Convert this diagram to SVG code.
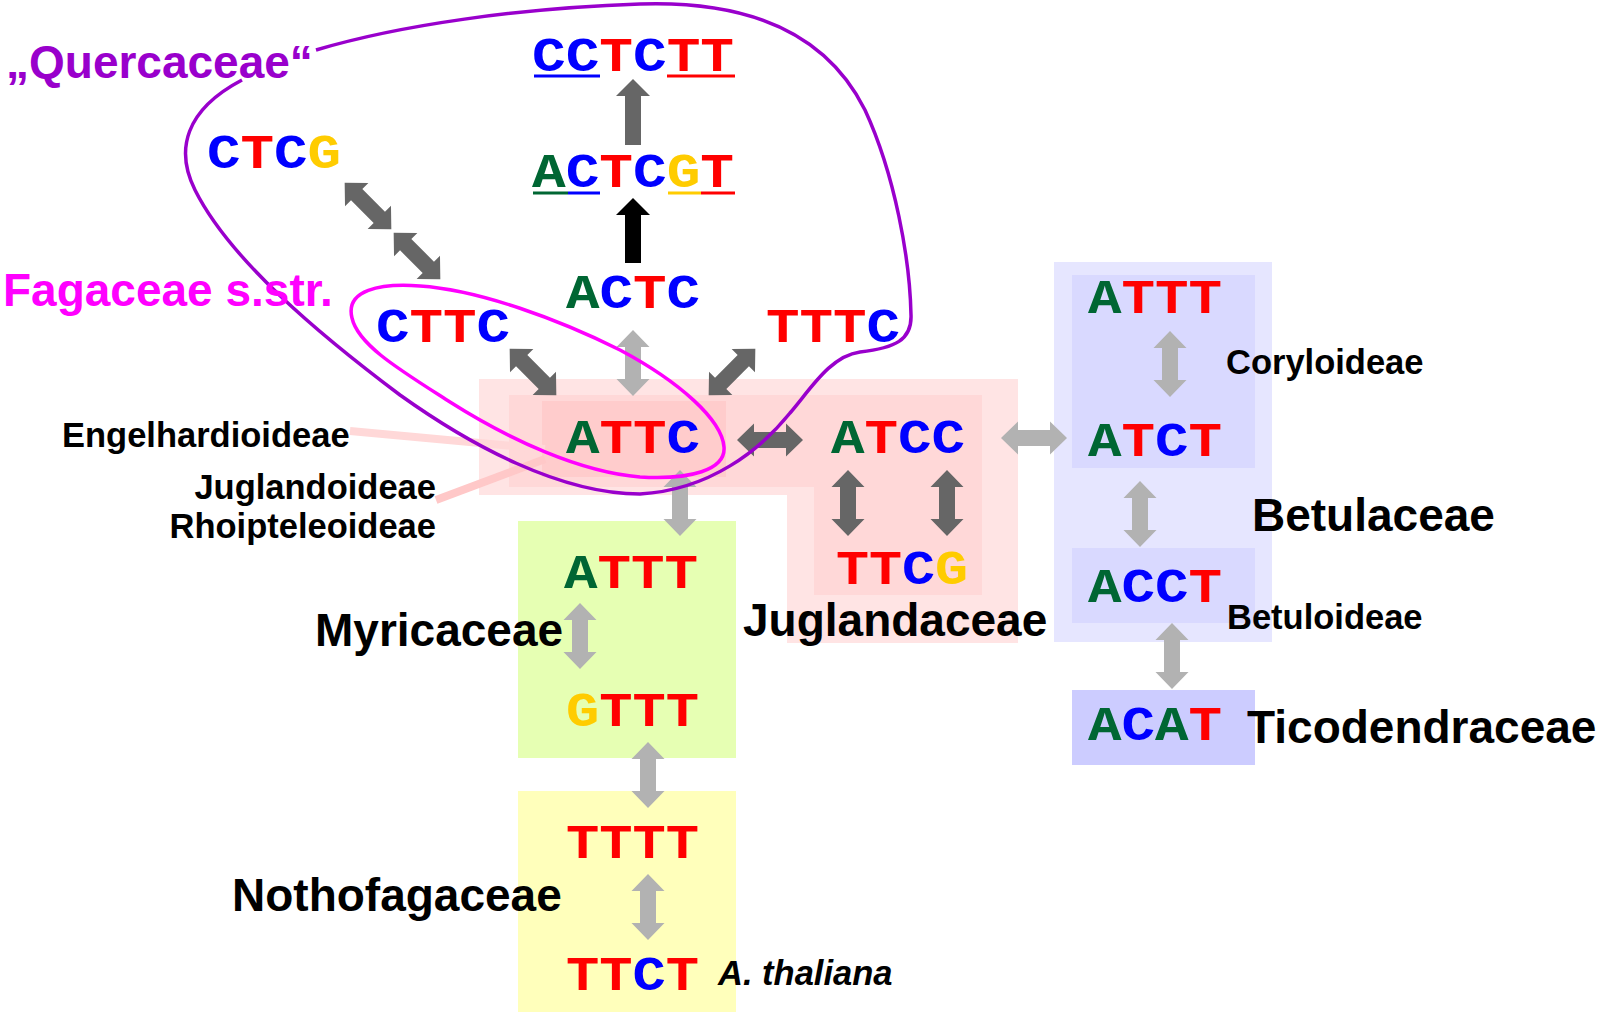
<svg xmlns="http://www.w3.org/2000/svg" xmlns:xlink="http://www.w3.org/1999/xlink" width="1600" height="1012" viewBox="0 0 1600 1012">
<style>
.seq{font-family:"Liberation Mono","Courier New",monospace;font-weight:bold;font-size:48px}
.A{fill:#006633}.C{fill:#0000FF}.T{fill:#FF0000}.G{fill:#FFCC00}
.big{font-family:"Liberation Sans",Arial,sans-serif;font-weight:bold;font-size:46px;fill:#000}
.small{font-family:"Liberation Sans",Arial,sans-serif;font-weight:bold;font-size:34.5px;fill:#000}
.dk{fill:#666666}.lt{fill:#B2B2B2}.bk{fill:#000}
</style>
<defs>
<path id="da" d="M0,-33 L16.5,-16 L8,-16 L8,16 L16.5,16 L0,33 L-16.5,16 L-8,16 L-8,-16 L-16.5,-16 Z"/>
</defs>
<rect width="1600" height="1012" fill="#fff"/>

<!-- background boxes -->
<g id="juglandaceae-box">
<path d="M479,379 H1018 V643 H787 V495 H479 Z" fill="#FFE4E4"/>
<path d="M509,395 H982 V595 H814 V487 H509 Z" fill="#FFD8D8"/>
<rect x="542" y="401" width="184" height="76" fill="#FFCCCC"/>
</g>
<g id="betulaceae-box">
<rect x="1054" y="262" width="218" height="380" fill="#E6E6FF"/>
<rect x="1072" y="275" width="183" height="193" fill="#D9D9FF"/>
<rect x="1072" y="548" width="183" height="75" fill="#D9D9FF"/>
</g>
<g id="ticodendraceae-box"><rect x="1072" y="690" width="183" height="75" fill="#CCCCFF"/></g>
<g id="myricaceae-box"><rect x="518" y="521" width="218" height="237" fill="#E6FFB3"/></g>
<g id="nothofagaceae-box"><rect x="518" y="791" width="218" height="221" fill="#FFFFBB"/></g>

<!-- pointer lines -->
<g id="pointers" stroke-linecap="butt">
<line x1="350" y1="431" x2="545" y2="449" stroke="#FFD8D8" stroke-width="8"/>
<line x1="436" y1="500" x2="545" y2="459" stroke="#FFC8C8" stroke-width="8"/>
</g>

<!-- connectors -->
<g id="connectors">
<use xlink:href="#da" class="dk" transform="translate(368,206) rotate(-45)"/>
<use xlink:href="#da" class="dk" transform="translate(417,256) rotate(-45)"/>
<use xlink:href="#da" class="dk" transform="translate(533,372) rotate(-45)"/>
<use xlink:href="#da" class="dk" transform="translate(732,372) rotate(45)"/>
<use xlink:href="#da" class="lt" transform="translate(633,363)"/>
<use xlink:href="#da" class="dk" transform="translate(770,440) rotate(90)"/>
<use xlink:href="#da" class="lt" transform="translate(1034,438) rotate(90)"/>
<use xlink:href="#da" class="dk" transform="translate(848,503)"/>
<use xlink:href="#da" class="dk" transform="translate(947,503)"/>
<use xlink:href="#da" class="lt" transform="translate(680,503)"/>
<use xlink:href="#da" class="lt" transform="translate(580,636)"/>
<use xlink:href="#da" class="lt" transform="translate(648,775)"/>
<use xlink:href="#da" class="lt" transform="translate(648,907)"/>
<use xlink:href="#da" class="lt" transform="translate(1170,364)"/>
<use xlink:href="#da" class="lt" transform="translate(1140,514)"/>
<use xlink:href="#da" class="lt" transform="translate(1172,656)"/>
<polygon class="dk" points="633,79 650,96 641,96 641,145 625,145 625,96 616,96"/>
<polygon class="bk" points="633,198 650,215 641,215 641,263 625,263 625,215 616,215"/>
</g>

<!-- group outlines -->
<g id="quercaceae-outline">
<path d="M316,50 C400,25 520,8 640,4 C760,0 830,40 865,110 C895,175 910,260 911,315 C912,340 895,348 860,352 C830,356 810,390 790,413 C760,450 710,490 640,494 C560,494 470,445 400,395 C320,335 230,260 195,190 C175,150 185,110 242,80" fill="none" stroke="#9900CC" stroke-width="3.5"/>
</g>
<g id="fagaceae-outline">
<path d="M352,318 C345,290 380,283 420,286 C480,290 560,320 620,350 C680,382 722,420 724,447 C726,470 690,480 640,477 C580,472 510,440 450,402 C400,370 358,345 352,318 Z" fill="none" stroke="#FF00FF" stroke-width="3.5"/>
</g>

<!-- group labels -->
<g id="label-quercaceae"><text x="6" y="78" class="big" style="fill:#9900CC">„Quercaceae“</text></g>
<g id="label-fagaceae"><text x="3" y="306" class="big" style="fill:#FF00FF">Fagaceae s.str.</text></g>
<g id="label-engelhardioideae"><text x="62" y="447" class="small">Engelhardioideae</text></g>
<g id="label-juglandoideae"><text x="436" y="499" class="small" text-anchor="end">Juglandoideae</text></g>
<g id="label-rhoipteleoideae"><text x="436" y="538" class="small" text-anchor="end">Rhoipteleoideae</text></g>
<g id="label-myricaceae"><text x="315" y="646" class="big">Myricaceae</text></g>
<g id="label-juglandaceae"><text x="743" y="636" class="big">Juglandaceae</text></g>
<g id="label-nothofagaceae"><text x="232" y="911" class="big">Nothofagaceae</text></g>
<g id="label-betulaceae"><text x="1252" y="531" class="big">Betulaceae</text></g>
<g id="label-ticodendraceae"><text x="1247" y="743" class="big">Ticodendraceae</text></g>
<g id="label-coryloideae"><text x="1226" y="374" class="small">Coryloideae</text></g>
<g id="label-betuloideae"><text x="1227" y="629" class="small">Betuloideae</text></g>
<g id="label-athaliana"><text x="718" y="985" class="small" font-style="italic">A. thaliana</text></g>

<!-- sequence nodes -->
<g id="n-CCTCTT">
<text x="532" y="71" class="seq" textLength="202" lengthAdjust="spacingAndGlyphs"><tspan class="C">CC</tspan><tspan class="T">T</tspan><tspan class="C">C</tspan><tspan class="T">TT</tspan></text>
<rect x="534" y="74.5" width="66" height="3" class="C"/>
<rect x="667" y="74.5" width="68" height="3" class="T"/>
</g>
<g id="n-ACTCGT">
<text x="532" y="187" class="seq" textLength="202" lengthAdjust="spacingAndGlyphs"><tspan class="A">A</tspan><tspan class="C">C</tspan><tspan class="T">T</tspan><tspan class="C">C</tspan><tspan class="G">G</tspan><tspan class="T">T</tspan></text>
<rect x="533" y="191.5" width="35" height="3" class="A"/>
<rect x="568" y="191.5" width="32" height="3" class="C"/>
<rect x="668" y="191.5" width="33" height="3" class="G"/>
<rect x="701" y="191.5" width="34" height="3" class="T"/>
</g>
<g id="n-CTCG"><text x="207" y="168" class="seq" textLength="134" lengthAdjust="spacingAndGlyphs"><tspan class="C">C</tspan><tspan class="T">T</tspan><tspan class="C">C</tspan><tspan class="G">G</tspan></text></g>
<g id="n-ACTC"><text x="566" y="308" class="seq" textLength="134" lengthAdjust="spacingAndGlyphs"><tspan class="A">A</tspan><tspan class="C">C</tspan><tspan class="T">T</tspan><tspan class="C">C</tspan></text></g>
<g id="n-CTTC"><text x="376" y="342" class="seq" textLength="134" lengthAdjust="spacingAndGlyphs"><tspan class="C">C</tspan><tspan class="T">TT</tspan><tspan class="C">C</tspan></text></g>
<g id="n-TTTC"><text x="766" y="342" class="seq" textLength="134" lengthAdjust="spacingAndGlyphs"><tspan class="T">TTT</tspan><tspan class="C">C</tspan></text></g>
<g id="n-ATTC"><text x="566" y="453" class="seq" textLength="134" lengthAdjust="spacingAndGlyphs"><tspan class="A">A</tspan><tspan class="T">TT</tspan><tspan class="C">C</tspan></text></g>
<g id="n-ATCC"><text x="831" y="453" class="seq" textLength="134" lengthAdjust="spacingAndGlyphs"><tspan class="A">A</tspan><tspan class="T">T</tspan><tspan class="C">CC</tspan></text></g>
<g id="n-TTCG"><text x="836" y="584" class="seq" textLength="132" lengthAdjust="spacingAndGlyphs"><tspan class="T">TT</tspan><tspan class="C">C</tspan><tspan class="G">G</tspan></text></g>
<g id="n-ATTT-myr"><text x="564" y="588" class="seq" textLength="134" lengthAdjust="spacingAndGlyphs"><tspan class="A">A</tspan><tspan class="T">TTT</tspan></text></g>
<g id="n-GTTT"><text x="566" y="726" class="seq" textLength="133" lengthAdjust="spacingAndGlyphs"><tspan class="G">G</tspan><tspan class="T">TTT</tspan></text></g>
<g id="n-TTTT"><text x="566" y="858" class="seq" textLength="133" lengthAdjust="spacingAndGlyphs"><tspan class="T">TTTT</tspan></text></g>
<g id="n-TTCT"><text x="566" y="990" class="seq" textLength="133" lengthAdjust="spacingAndGlyphs"><tspan class="T">TT</tspan><tspan class="C">C</tspan><tspan class="T">T</tspan></text></g>
<g id="n-ATTT-bet"><text x="1088" y="313" class="seq" textLength="134" lengthAdjust="spacingAndGlyphs"><tspan class="A">A</tspan><tspan class="T">TTT</tspan></text></g>
<g id="n-ATCT"><text x="1088" y="456" class="seq" textLength="134" lengthAdjust="spacingAndGlyphs"><tspan class="A">A</tspan><tspan class="T">T</tspan><tspan class="C">C</tspan><tspan class="T">T</tspan></text></g>
<g id="n-ACCT"><text x="1088" y="602" class="seq" textLength="134" lengthAdjust="spacingAndGlyphs"><tspan class="A">A</tspan><tspan class="C">CC</tspan><tspan class="T">T</tspan></text></g>
<g id="n-ACAT"><text x="1088" y="740" class="seq" textLength="134" lengthAdjust="spacingAndGlyphs"><tspan class="A">A</tspan><tspan class="C">C</tspan><tspan class="A">A</tspan><tspan class="T">T</tspan></text></g>
</svg>
